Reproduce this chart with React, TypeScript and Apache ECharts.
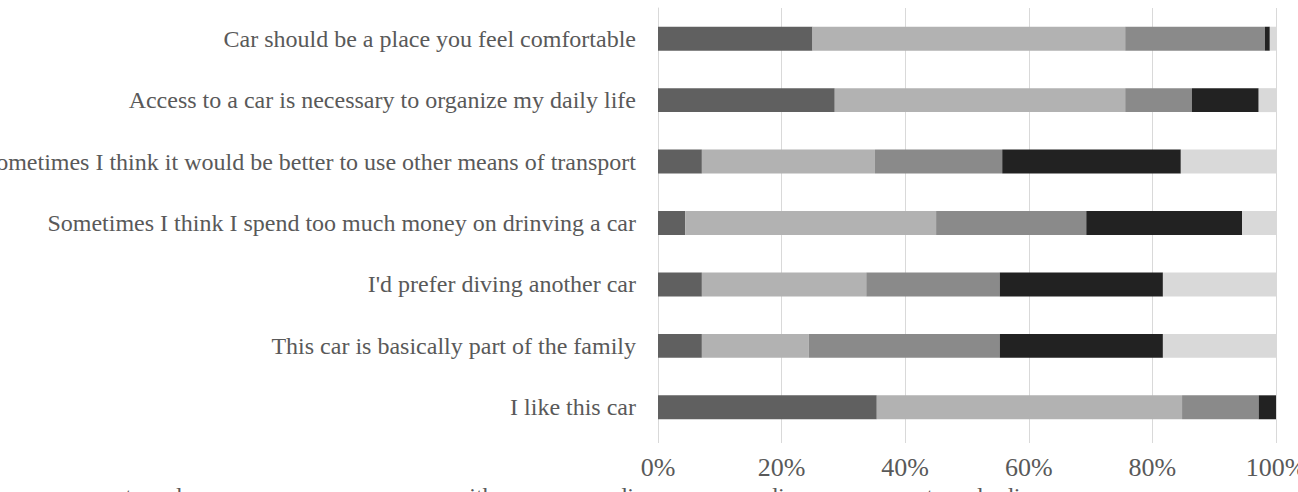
import React, { useEffect, useRef } from "react";
import * as echarts from "echarts";

const categories = [
  "I like this car",
  "This car is basically part of the family",
  "I'd prefer diving another car",
  "Sometimes I think I spend too much money on drinving a car",
  "Sometimes I think it would be better to use other means of transport",
  "Access to a car is necessary to organize my daily life",
  "Car should be a place you feel comfortable",
];

const seriesNames = [
  "strongly agree",
  "agree",
  "neither agree nor disagree",
  "disagree",
  "strongly disagree",
];

const stronglyAgree = [35.4, 7.1, 7.1, 4.4, 7.1, 28.6, 25.0];
const agree = [49.4, 17.3, 26.6, 40.6, 28.0, 47.0, 50.6];
const neutral = [12.4, 30.9, 21.6, 24.3, 20.6, 10.8, 22.6];
const disagree = [2.8, 26.4, 26.4, 25.2, 28.9, 10.8, 0.8];
const stronglyDisagree = [0.0, 18.3, 18.3, 5.5, 15.4, 2.8, 1.0];

const xTicks = [0, 20, 40, 60, 80, 100];

const colors = ["#606060", "#b2b2b2", "#8a8a8a", "#222222", "#d9d9d9"];

export default function App() {
  const ref = useRef<HTMLDivElement>(null);
  useEffect(() => {
    if (!ref.current) return;
    const chart = echarts.init(ref.current, undefined, { renderer: "svg" });
    const values = [stronglyAgree, agree, neutral, disagree, stronglyDisagree];
    chart.setOption({
      animation: false,
      backgroundColor: "#ffffff",
      textStyle: { fontFamily: "Liberation Serif" },
      grid: {
        left: 658,
        right: 22,
        top: 8,
        bottom: 54,
        containLabel: false,
        outerBoundsMode: "none",
      },
      legend: {
        top: 478,
        left: 100,
        itemGap: 60,
        itemWidth: 6,
        itemHeight: 6,
        textStyle: { fontFamily: "Liberation Serif", fontSize: 24, color: "#595959", lineHeight: 26 },
        data: seriesNames,
      },
      xAxis: {
        type: "value",
        min: 0,
        max: 100,
        interval: 20,
        axisLine: { show: false },
        axisTick: { show: true, length: 5, lineStyle: { color: "#d9d9d9" } },
        splitLine: { show: true, lineStyle: { color: "#d9d9d9", width: 1 } },
        axisLabel: {
          margin: 16,
          fontFamily: "Liberation Serif",
          fontSize: 26,
          color: "#595959",
          formatter: (v: number) => (xTicks.includes(v) ? v + "%" : ""),
        },
      },
      yAxis: {
        type: "category",
        data: categories,
        axisLine: { show: true, lineStyle: { color: "#d9d9d9" } },
        axisTick: { show: false },
        axisLabel: {
          margin: 22,
          fontFamily: "Liberation Serif",
          fontSize: 24,
          color: "#595959",
        },
      },
      series: seriesNames.map((name, i) => ({
        name,
        type: "bar",
        stack: "total",
        barCategoryGap: "61%",
        data: values[i],
        itemStyle: { color: colors[i] },
      })),
    });
    return () => chart.dispose();
  }, []);
  return (
    <div
      ref={ref}
      style={{ position: "fixed", left: 0, top: 0, width: 1298, height: 492 }}
    />
  );
}
